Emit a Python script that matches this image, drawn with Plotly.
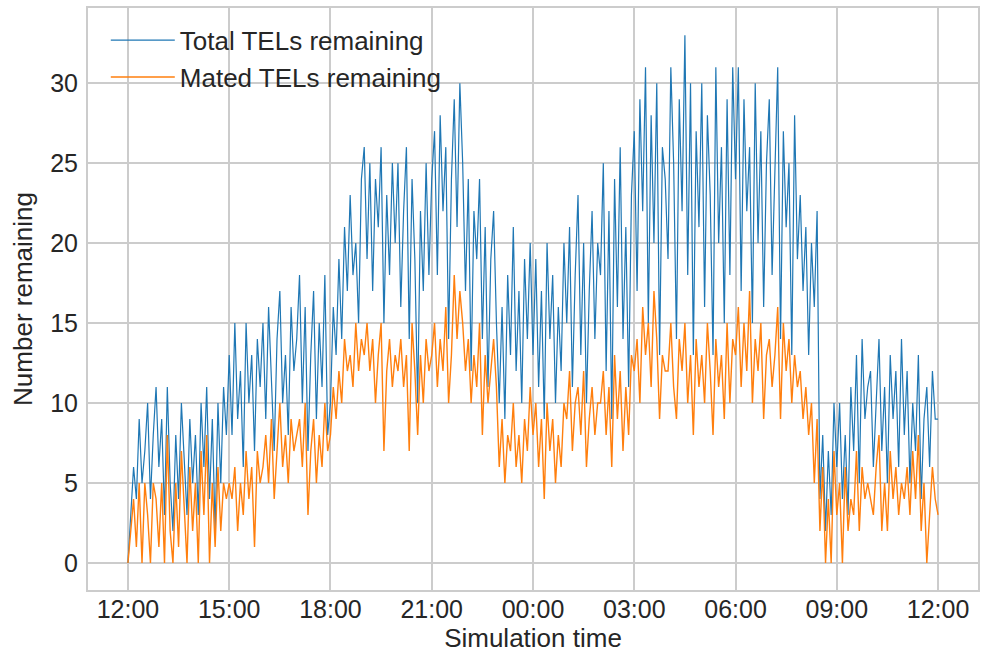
import pandas as pd
import plotly.graph_objects as go

# Counts sampled every 5 minutes, one row of 12 samples per hour starting 12:00
total_remaining = [
    0, 3, 6, 4, 9, 5, 7, 10, 4, 8, 11, 6,
    9, 3, 11, 5, 2, 8, 4, 10, 6, 3, 9, 5,
    8, 3, 10, 6, 11, 4, 9, 2, 10, 5, 11, 8,
    13, 8, 15, 9, 12, 6, 15, 10, 13, 7, 14, 11,
    15, 9, 16, 11, 7, 14, 17, 10, 13, 8, 16, 12,
    14, 18, 10, 16, 7, 13, 17, 9, 15, 11, 18, 8,
    10, 16, 13, 19, 14, 21, 17, 23, 18, 20, 15, 24,
    26, 19, 25, 17, 24, 21, 26, 15, 23, 18, 25, 20,
    25, 16, 22, 26, 14, 24, 19, 10, 22, 17, 25, 18,
    24, 27, 18, 28, 22, 26, 14, 24, 29, 21, 30, 25,
    17, 24, 12, 22, 19, 24, 14, 21, 11, 19, 22, 15,
    10, 16, 9, 18, 13, 21, 12, 17, 10, 19, 14, 20,
    13, 19, 11, 17, 9, 20, 14, 18, 10, 16, 12, 20,
    15, 21, 11, 18, 23, 13, 20, 10, 17, 22, 14, 20,
    18, 25, 12, 22, 9, 24, 16, 26, 14, 21, 11, 23,
    27, 17, 29, 22, 31, 15, 28, 20, 30, 13, 26, 24,
    19, 31, 25, 14, 29, 22, 33, 18, 30, 13, 27, 21,
    30, 16, 28, 23, 13, 31, 20, 26, 15, 29, 18, 31,
    24, 31, 17, 29, 22, 26, 15, 30, 20, 27, 16, 25,
    29, 18, 24, 31, 14, 27, 21, 25, 13, 28, 19, 23,
    17, 21, 13, 20, 16, 22, 4, 8, 2, 7, 3, 10,
    6, 10, 4, 8, 3, 11, 7, 13, 5, 14, 9, 11,
    12, 6, 10, 14, 7, 11, 5, 13, 9, 12, 6, 14,
    8, 12, 5, 10, 7, 13, 4, 9, 11, 6, 12, 9,
    9,
]

mated_remaining = [
    0, 2, 4, 1, 5, 0, 5, 3, 0, 5, 4, 1,
    5, 0, 8, 2, 0, 5, 1, 7, 3, 0, 6, 2,
    5, 0, 7, 3, 8, 0, 5, 1, 6, 2, 5, 4,
    5, 4, 6, 2, 5, 3, 7, 4, 6, 1, 7, 5,
    6, 8, 5, 9, 4, 7, 10, 6, 8, 5, 9, 7,
    8, 9, 6, 10, 3, 7, 9, 5, 8, 6, 10, 7,
    8, 11, 9, 12, 10, 14, 12, 13, 11, 15, 12, 14,
    13, 15, 12, 14, 10, 13, 15, 7, 12, 14, 11, 13,
    12, 14, 11, 13, 7, 15, 12, 8, 13, 10, 14, 12,
    13, 15, 11, 14, 12, 16, 10, 13, 18, 14, 17, 15,
    12, 14, 10, 13, 11, 15, 8, 13, 10, 12, 14, 11,
    6, 9, 5, 8, 7, 10, 6, 8, 5, 9, 7, 11,
    8, 10, 6, 9, 4, 10, 7, 9, 5, 8, 6, 10,
    9, 12, 7, 10, 11, 8, 12, 6, 9, 11, 8, 10,
    10, 12, 8, 11, 6, 13, 9, 12, 7, 11, 8, 13,
    12, 14, 10, 16, 13, 15, 11, 17, 14, 9, 13, 12,
    12, 15, 11, 9, 14, 12, 15, 10, 13, 8, 14, 11,
    13, 10, 15, 12, 8, 14, 11, 13, 9, 15, 10, 14,
    13, 16, 11, 15, 12, 17, 10, 14, 12, 15, 9, 13,
    14, 11, 13, 16, 9, 15, 12, 14, 10, 13, 11, 12,
    9, 11, 8, 10, 5, 9, 2, 6, 0, 4, 0, 7,
    3, 5, 0, 6, 2, 4, 3, 7, 2, 6, 4, 5,
    4, 3, 6, 8, 2, 5, 2, 7, 4, 6, 3, 5,
    4, 6, 3, 7, 4, 8, 2, 5, 0, 3, 6, 4,
    3,
]

sim_start = "2021-01-01 12:00"
sample_step = "5min"
times = pd.date_range(sim_start, periods=len(total_remaining), freq=sample_step)

y_tick_values = [0, 5, 10, 15, 20, 25, 30]

FONT = "Liberation Sans, Arial, sans-serif"
TEXT = "#262626"
GRID = "#cccccc"

fig = go.Figure()
fig.add_trace(go.Scatter(
    x=times, y=total_remaining, mode="lines", name="Total TELs remaining",
    line=dict(color="#1f77b4", width=1.2),
))
fig.add_trace(go.Scatter(
    x=times, y=mated_remaining, mode="lines", name="Mated TELs remaining",
    line=dict(color="#ff7f0e", width=1.4),
))

x_lo = pd.Timestamp(sim_start) - pd.Timedelta(minutes=71)
x_hi = pd.Timestamp(sim_start) + pd.Timedelta(hours=25, minutes=11)

fig.update_layout(
    width=982, height=660,
    margin=dict(l=88, r=2, t=8, b=70),
    paper_bgcolor="white", plot_bgcolor="white",
    font=dict(family=FONT, size=25, color=TEXT),
    showlegend=True,
    legend=dict(
        x=0.02, y=0.985, xanchor="left", yanchor="top",
        bgcolor="rgba(0,0,0,0)", borderwidth=0,
        font=dict(family=FONT, size=26, color=TEXT),
        itemwidth=64, tracegroupgap=2,
    ),
    xaxis=dict(
        range=[x_lo, x_hi],
        tickformat="%H:%M", dtick=3 * 3600 * 1000,
        tick0=pd.Timestamp(sim_start),
        tickfont=dict(size=25, color=TEXT),
        showgrid=True, gridcolor=GRID, gridwidth=1.5,
        showline=True, linecolor=GRID, linewidth=2, mirror=True,
        zeroline=False, ticks="",
        ticklabelstandoff=-4,
        title=dict(text="Simulation time", font=dict(size=26, color=TEXT), standoff=2),
    ),
    yaxis=dict(
        range=[-1.69, 34.7],
        tickvals=y_tick_values,
        tickfont=dict(size=25, color=TEXT),
        showgrid=True, gridcolor=GRID, gridwidth=1.5,
        showline=True, linecolor=GRID, linewidth=2, mirror=True,
        zeroline=False, ticks="",
        ticklabelstandoff=3,
        title=dict(text="Number remaining", font=dict(size=26, color=TEXT), standoff=10),
    ),
)

fig.write_html("out.html")
